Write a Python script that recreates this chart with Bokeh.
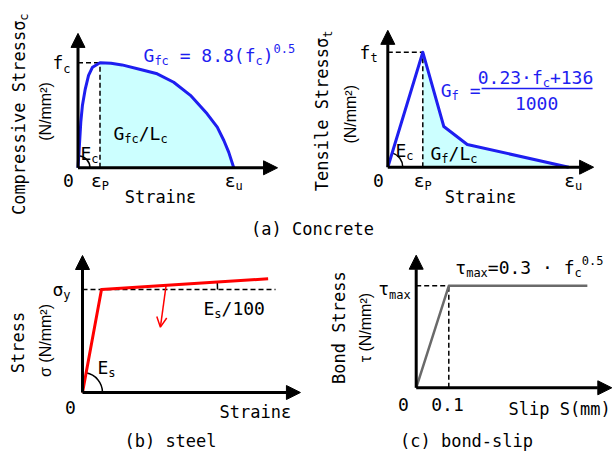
import math
from bokeh.plotting import figure
from bokeh.models import Range1d, Arrow, NormalHead, OpenHead
from bokeh.core.properties import value
from bokeh.embed import file_html
from bokeh.resources import INLINE

# ---------------- data (normalised units) ----------------
# (a) concrete, compression: strain / eps_p, stress / f_c
comp_strain = [0.0, 0.055, 0.127, 0.20, 0.33, 0.48, 0.66, 1.0, 1.5, 2.0, 2.84, 3.6, 4.35,
               5.11, 5.87, 6.33, 6.63, 6.85, 7.08]
comp_stress = [0.0, 0.18, 0.434, 0.593, 0.75, 0.88, 0.958, 1.0, 0.995, 0.98, 0.936, 0.895, 0.815,
               0.69, 0.514, 0.387, 0.26, 0.149, 0.0]
COMP_PEAK = 7          # index of (eps_p, f_c)
# (a) concrete, tension: strain / eps_p, stress / f_t
tens_strain = [0.0, 1.0, 1.6, 2.27, 5.17]
tens_stress = [0.0, 1.0, 0.354, 0.197, 0.0]
TENS_PEAK = 1
# (b) steel: strain / eps_y, stress / sigma_y
steel_strain = [0.0, 1.0, 9.77]
steel_stress = [0.0, 1.0, 1.104]
steel_unload_x = [4.4, 4.1]
steel_unload_y = [1.04, 0.634]
STEEL_DASH_END = 10.16
# (c) bond-slip: slip (mm), stress / tau_max
bond_slip = [0.0, 0.1, 0.525]
bond_stress = [0.0, 1.0, 1.0]

# axis arrow extents (x tip, y tip) per panel, in panel units
axis_tips = {"a1": (9.07, 1.28), "a2": (5.88, 1.19), "b": (11.47, 1.33), "c": (0.6, 1.30)}

captions = ["(a) Concrete", "(b) steel", "(c) bond-slip"]

# ---------------- layout ----------------
W, H = 612, 452
# panel origin in page px (OX, OY) and px per unit (sx, sy)
panels = {"a1": (77.5, 167.3, 22, 105), "a2": (387.3, 166.7, 35, 115),
          "b": (82.0, 392.0, 19, 103), "c": (415.7, 387.3, 326, 102)}

MONO = "DejaVu Sans Mono"
SANS = "Liberation Sans"
BLUE = "#1e1ef0"
CYAN = "#ccffff"

p = figure(width=W, height=H, x_range=Range1d(0, W), y_range=Range1d(H, 0),
           output_backend="svg", toolbar_location=None, min_border=0)
p.axis.visible = False
p.grid.visible = False
p.outline_line_color = None
p.background_fill_color = "white"
p.border_fill_color = "white"

for name, (cx, cy, sx, sy) in panels.items():
    p.extra_x_ranges[name + "x"] = Range1d(-cx / sx, (W - cx) / sx)
    p.extra_y_ranges[name + "y"] = Range1d((cy - H) / sy, cy / sy)


def rk(panel):
    if panel is None:
        return {}
    return dict(x_range_name=panel + "x", y_range_name=panel + "y")


def rich(parts, x, y, panel, align="left", angle=0.0, size=17, color="black", font=MONO):
    adv = 0.602
    ssize = round(size * 0.68)
    widths = [len(t) * adv * (size if k == "n" else ssize) for t, k in parts]
    total = sum(widths)
    pos = {"left": 0.0, "center": -total / 2, "right": -total}[align]
    for (t, k), w in zip(parts, widths):
        s = size if k == "n" else ssize
        lead = len(t) - len(t.lstrip(" "))
        start = pos + lead * adv * s
        shift = {"n": 0.0, "sub": 0.32 * size, "sup": -0.36 * size}[k]
        if angle == 0:
            xo, yo = start, shift
        else:
            xo, yo = shift, -start
        p.text(x=[x], y=[y], text=[t.strip(" ")], x_offset=xo, y_offset=yo, angle=angle,
               text_align="left", text_baseline="middle", text_font=value(font),
               text_font_size=f"{s}px", text_color=color, **rk(panel))
        pos += w


def label(t, x, y, panel, align="center", angle=0.0, size=17, font=MONO, color="black"):
    p.text(x=[x], y=[y], text=[t], angle=angle, text_align=align, text_baseline="middle",
           text_font=value(font), text_font_size=f"{size}px", text_color=color, **rk(panel))


def dashed(xs, ys, panel):
    p.line(xs, ys, line_color="black", line_width=1.5, line_dash="5 3", **rk(panel))


def axes(panel):
    xt, yt = axis_tips[panel]
    for xe, ye in ((0, yt), (xt, 0)):
        p.add_layout(Arrow(end=NormalHead(size=14, fill_color="black", line_color="black"),
                           x_start=0, y_start=0, x_end=xe, y_end=ye, line_width=3,
                           line_color="black", **rk(panel)))


R90 = math.pi / 2

# ---------------- (a) compression ----------------
ep, fc = comp_strain[COMP_PEAK], comp_stress[COMP_PEAK]
p.varea(x=comp_strain[COMP_PEAK:], y1=[0] * len(comp_strain[COMP_PEAK:]),
        y2=comp_stress[COMP_PEAK:], fill_color=CYAN, **rk("a1"))
dashed([0, ep], [fc, fc], "a1")
dashed([ep, ep], [0, fc], "a1")
p.arc(x=[0], y=[0], radius=12, radius_units="screen", start_angle=0, end_angle=1.5,
      line_color="black", line_width=1.5, **rk("a1"))
p.line(comp_strain, comp_stress, line_color=BLUE, line_width=3, line_join="round", **rk("a1"))
axes("a1")
rich([("Compressive Stressσ", "n"), ("c", "sub")], -2.70, 0.51, "a1", align="center", angle=R90)
label("(N/mm²)", -1.48, 0.536, "a1", angle=R90, size=16, font=SANS)
rich([("f", "n"), ("c", "sub")], -0.34, fc, "a1", align="right", size=18)
label("0", -0.43, -0.12, "a1", size=18)
rich([("ε", "n"), ("P", "sub")], ep, -0.12, "a1", align="center", size=18)
rich([("ε", "n"), ("u", "sub")], comp_strain[-1], -0.12, "a1", align="center", size=18)
rich([("Strainε", "n")], 3.75, -0.275, "a1", align="center")
rich([("G", "n"), ("fc", "sub"), (" = 8.8(f", "n"), ("c", "sub"), (")", "n"), ("0.5", "sup")],
     2.98, 1.07, "a1", size=18, color=BLUE)
rich([("G", "n"), ("fc", "sub"), ("/L", "n"), ("c", "sub")], 1.61, 0.326, "a1", size=18)
rich([("E", "n"), ("c", "sub")], 0.11, 0.136, "a1", size=18)

# ---------------- (a) tension ----------------
tp, ft = tens_strain[TENS_PEAK], tens_stress[TENS_PEAK]
p.varea(x=tens_strain[TENS_PEAK:], y1=[0] * len(tens_strain[TENS_PEAK:]),
        y2=tens_stress[TENS_PEAK:], fill_color=CYAN, **rk("a2"))
dashed([0, tp], [ft, ft], "a2")
dashed([tp, tp], [0, ft], "a2")
p.arc(x=[0], y=[0], radius=15, radius_units="screen", start_angle=0, end_angle=1.27,
      line_color="black", line_width=1.5, **rk("a2"))
p.line(tens_strain, tens_stress, line_color=BLUE, line_width=3, line_join="round", **rk("a2"))
axes("a2")
rich([("Tensile Stressσ", "n"), ("t", "sub")], -1.866, 0.49, "a2", align="center", angle=R90)
label("(N/mm²)", -1.07, 0.46, "a2", angle=R90, size=16, font=SANS)
rich([("f", "n"), ("t", "sub")], -0.29, ft, "a2", align="right", size=18)
label("0", -0.27, -0.117, "a2", size=18)
rich([("ε", "n"), ("P", "sub")], tp, -0.117, "a2", align="center", size=18)
rich([("ε", "n"), ("u", "sub")], 5.30, -0.117, "a2", align="center", size=18)
rich([("Strainε", "n")], 2.65, -0.255, "a2", align="center")
rich([("G", "n"), ("f", "sub")], 1.51, 0.667, "a2", size=18, color=BLUE)
rich([("=", "n")], 2.34, 0.667, "a2", size=18, color=BLUE)
rich([("0.23·f", "n"), ("c", "sub"), ("+136", "n")], 4.22, 0.78, "a2", align="center", size=18, color=BLUE)
p.line([2.68, 5.85], [0.684, 0.684], line_color=BLUE, line_width=1.5, **rk("a2"))
rich([("1000", "n")], 4.25, 0.553, "a2", align="center", size=18, color=BLUE)
rich([("E", "n"), ("c", "sub")], 0.22, 0.145, "a2", size=18)
rich([("G", "n"), ("f", "sub"), ("/L", "n"), ("c", "sub")], 1.22, 0.12, "a2", size=18)

# ---------------- (b) steel ----------------
ey, sy_ = steel_strain[1], steel_stress[1]
dashed([0, STEEL_DASH_END], [sy_, sy_], "b")
p.arc(x=[0], y=[0], radius=20, radius_units="screen", start_angle=0, end_angle=1.39,
      line_color="black", line_width=1.5, **rk("b"))
p.arc(x=[ey], y=[sy_], radius=116, radius_units="screen", start_angle=0, end_angle=0.064,
      line_color="black", line_width=1.5, **rk("b"))
p.line(steel_strain, steel_stress, line_color="red", line_width=3, line_join="round", **rk("b"))
p.add_layout(Arrow(end=OpenHead(size=10, line_color="red", line_width=1.5),
                   x_start=steel_unload_x[0], y_start=steel_unload_y[0],
                   x_end=steel_unload_x[1], y_end=steel_unload_y[1],
                   line_color="red", line_width=1.5, **rk("b")))
axes("b")
rich([("Stress", "n")], -3.37, 0.485, "b", align="center", angle=R90)
label("σ (N/mm²)", -1.95, 0.505, "b", angle=R90, size=16, font=SANS)
rich([("σ", "n"), ("y", "sub")], -0.63, sy_, "b", align="right", size=18)
rich([("E", "n"), ("s", "sub"), ("/100", "n")], 6.37, 0.816, "b", size=18)
rich([("E", "n"), ("s", "sub")], 0.79, 0.243, "b", size=18)
label("0", -0.63, -0.146, "b", size=18)
rich([("Strainε", "n")], 9.1, -0.194, "b", align="center")

# ---------------- (c) bond-slip ----------------
s1, tm = bond_slip[1], bond_stress[1]
dashed([0, s1], [tm, tm], "c")
dashed([s1, s1], [0, tm], "c")
p.line(bond_slip, bond_stress, line_color="#6a6a6a", line_width=2.5, line_join="round", **rk("c"))
axes("c")
rich([("Bond Stress", "n")], -0.238, 0.59, "c", align="center", angle=R90)
label("τ (N/mm²)", -0.155, 0.59, "c", angle=R90, size=16, font=SANS)
rich([("τ", "n"), ("max", "sub")], -0.017, 0.97, "c", align="right", size=18)
rich([("τ", "n"), ("max", "sub"), ("=0.3 · f", "n"), ("c", "sub"), ("0.5", "sup")],
     0.12, 1.18, "c", size=18)
label("0", -0.039, -0.164, "c", size=18)
label(str(s1), s1 - 0.004, -0.164, "c", size=18)
rich([("Slip S(mm)", "n")], 0.44, -0.21, "c", align="center")

# ---------------- captions (page px) ----------------
label(captions[0], 312, 228, None)
label(captions[1], 170, 440, None)
label(captions[2], 466, 440, None)

open("out.html", "w").write(file_html(p, INLINE))
